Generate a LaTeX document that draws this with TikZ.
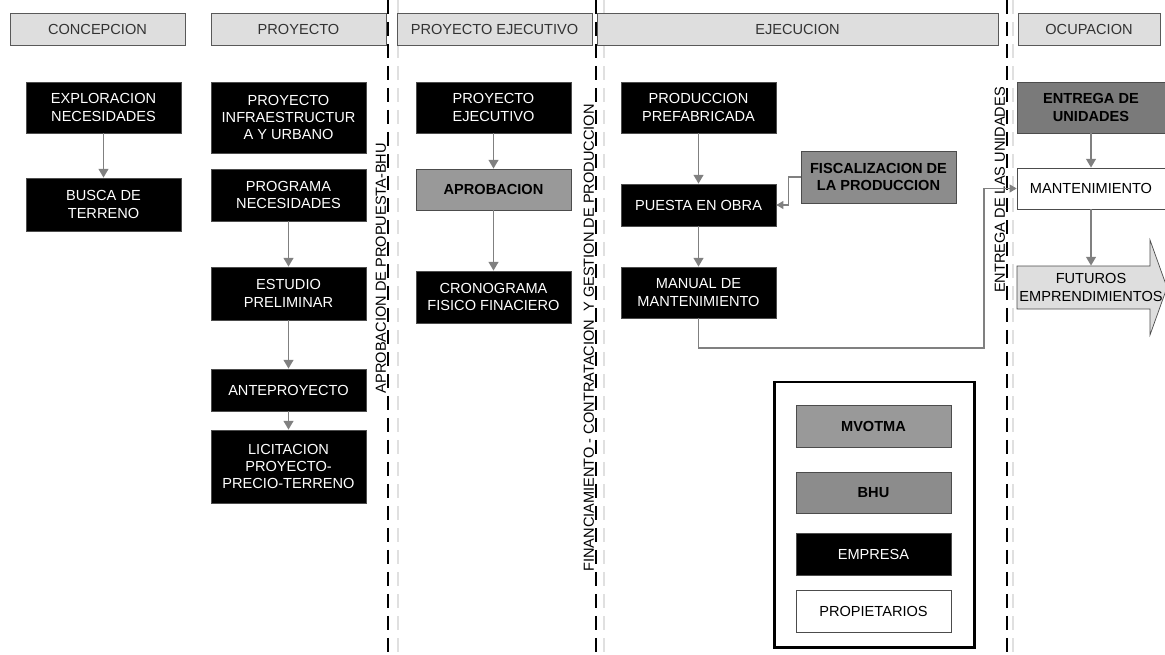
\documentclass[tikz,border=0pt]{standalone}
\usepackage{fontspec}
\setmainfont{Liberation Sans}
\usetikzlibrary{arrows.meta}
\definecolor{grisclaro}{HTML}{DEDEDE}
\definecolor{grismedio}{HTML}{999999}
\definecolor{grisosc}{HTML}{8C8C8C}
\definecolor{grisent}{HTML}{7A7A7A}
\definecolor{grisflecha}{HTML}{808080}
\begin{document}
\begin{tikzpicture}[x=0.02cm,y=-0.02cm,font=\fontsize{8.3}{9.8}\selectfont,
  caja/.style={draw=black!70,fill=black,text=white,align=center,minimum width=3.1cm,inner sep=1pt},
  cajagris/.style={caja,fill=grismedio,text=black,font=\fontsize{8.3}{9.8}\selectfont\bfseries},
  cabecera/.style={draw=black!65,fill=grisclaro,text=black!80,minimum height=0.64cm},
  flecha/.style={-{Triangle[width=5.5pt,length=5pt]},draw=grisflecha,line width=1.1pt},
  flechafina/.style={-{Triangle[width=4.5pt,length=4pt]},draw=grisflecha,line width=0.7pt},
  corte/.style={line width=1.2pt,dash pattern=on 0.28cm off 0.16cm},
  guia/.style={draw=black!12,line width=0.8pt,dash pattern=on 0.28cm off 0.16cm},
  etiq/.style={rotate=90,anchor=south,inner sep=1pt}]
\useasboundingbox (0,0) rectangle (1165,655);
\foreach \x in {398,604,1013} \draw[guia] (\x,0) -- (\x,655);
\foreach \x in {388,596,1007} \draw[corte] (\x,0) -- (\x,655);
\node[etiq] (aprobbhu) at (388,268) {APROBACION DE PROPUESTA-BHU};
\node[etiq] (financ) at (596,338) {FINANCIAMIENTO - CONTRATACION \ Y GESTION DE PRODUCCION};
\node[etiq] (entregalbl) at (1007,190) {ENTREGA DE LAS UNIDADES};

\node[cabecera,minimum width=3.5cm] (concepcion) at (97.5,29) {CONCEPCION};
\node[cabecera,minimum width=3.5cm] (proyecto) at (298.5,29) {PROYECTO};
\node[cabecera,minimum width=3.9cm] (pejecutivo) at (494.5,29) {PROYECTO EJECUTIVO};
\node[cabecera,minimum width=8.02cm] (ejecucion) at (797.5,29) {EJECUCION};
\node[cabecera,minimum width=2.84cm] (ocupacion) at (1089,29) {OCUPACION};

\node[caja,minimum height=1.02cm] (explo) at (103.5,107.5) {EXPLORACION\\NECESIDADES};
\node[caja,minimum height=1.06cm] (busca) at (103.5,204.5) {BUSCA DE\\TERRENO};
\node[caja,minimum height=1.42cm] (infra) at (288.5,117.5) {PROYECTO\\INFRAESTRUCTUR\\A Y URBANO};
\node[caja,minimum height=1.04cm] (programa) at (288.5,195) {PROGRAMA\\NECESIDADES};
\node[caja,minimum height=1.06cm] (estudio) at (288.5,293.5) {ESTUDIO\\PRELIMINAR};
\node[caja,minimum height=0.84cm] (antep) at (288.5,390) {ANTEPROYECTO};
\node[caja,minimum height=1.46cm] (licit) at (288.5,466.5) {LICITACION\\PROYECTO-\\PRECIO-TERRENO};
\node[caja,minimum height=1.02cm] (pejec) at (493.5,107.5) {PROYECTO\\EJECUTIVO};
\node[cajagris,minimum height=0.82cm] (aprob) at (493.5,189.5) {APROBACION};
\node[caja,minimum height=1.04cm] (crono) at (493.5,297) {CRONOGRAMA\\FISICO FINACIERO};
\node[caja,minimum height=1.02cm] (prefab) at (698.5,107.5) {PRODUCCION\\PREFABRICADA};
\node[caja,minimum height=0.84cm] (puesta) at (698.5,205) {PUESTA EN OBRA};
\node[caja,minimum height=1.02cm] (manual) at (698.5,292.5) {MANUAL DE\\MANTENIMIENTO};
\node[cajagris,fill=grisosc,minimum height=1.04cm] (fisc) at (878.5,177) {FISCALIZACION DE\\LA PRODUCCION};
\node[cajagris,fill=grisent,minimum width=2.96cm,minimum height=1.02cm] (entrega) at (1091,107.5) {ENTREGA DE\\UNIDADES};
\node[caja,fill=white,text=black,minimum width=2.96cm,minimum height=0.82cm] (mant) at (1091,188.5) {MANTENIMIENTO};
\draw[draw=black!70,fill=grisclaro] (1017,266) -- (1150,266) -- (1150,240) -- (1167,287.5)
  -- (1150,335) -- (1150,309) -- (1017,309) -- cycle;
\node[align=center,minimum height=0.86cm,inner sep=0pt] (futuros) at (1091,287.5) {FUTUROS\\EMPRENDIMIENTOS};

\draw[line width=1.7pt] (774,382) rectangle (974,647);
\node[cajagris,minimum height=0.84cm] (mvotma) at (873.5,426) {MVOTMA};
\node[cajagris,fill=grisosc,minimum height=0.82cm] (bhu) at (873.5,492.5) {BHU};
\node[caja,minimum height=0.84cm] (empresa) at (873.5,554) {EMPRESA};
\node[caja,fill=white,text=black,minimum height=0.84cm] (propiet) at (873.5,611) {PROPIETARIOS};

\draw[flecha] (explo) -- (busca);
\draw[flecha] (programa) -- (estudio);
\draw[flecha] (estudio) -- (antep);
\draw[flecha] (antep) -- (licit);
\draw[flecha] (pejec) -- (aprob);
\draw[flecha] (aprob) -- (crono);
\draw[flecha] (prefab) -- (puesta);
\draw[flecha] (puesta) -- (manual);
\draw[flecha] (entrega) -- (mant);
\draw[flecha] (mant) -- (futuros);
\draw[flechafina] (fisc.west) -- ++(-12,0) |- (puesta.east);
\coordinate (giro) at (984,348);
\draw[flechafina] (manual.south) |- (giro) |- (mant.west);
\end{tikzpicture}
\end{document}
